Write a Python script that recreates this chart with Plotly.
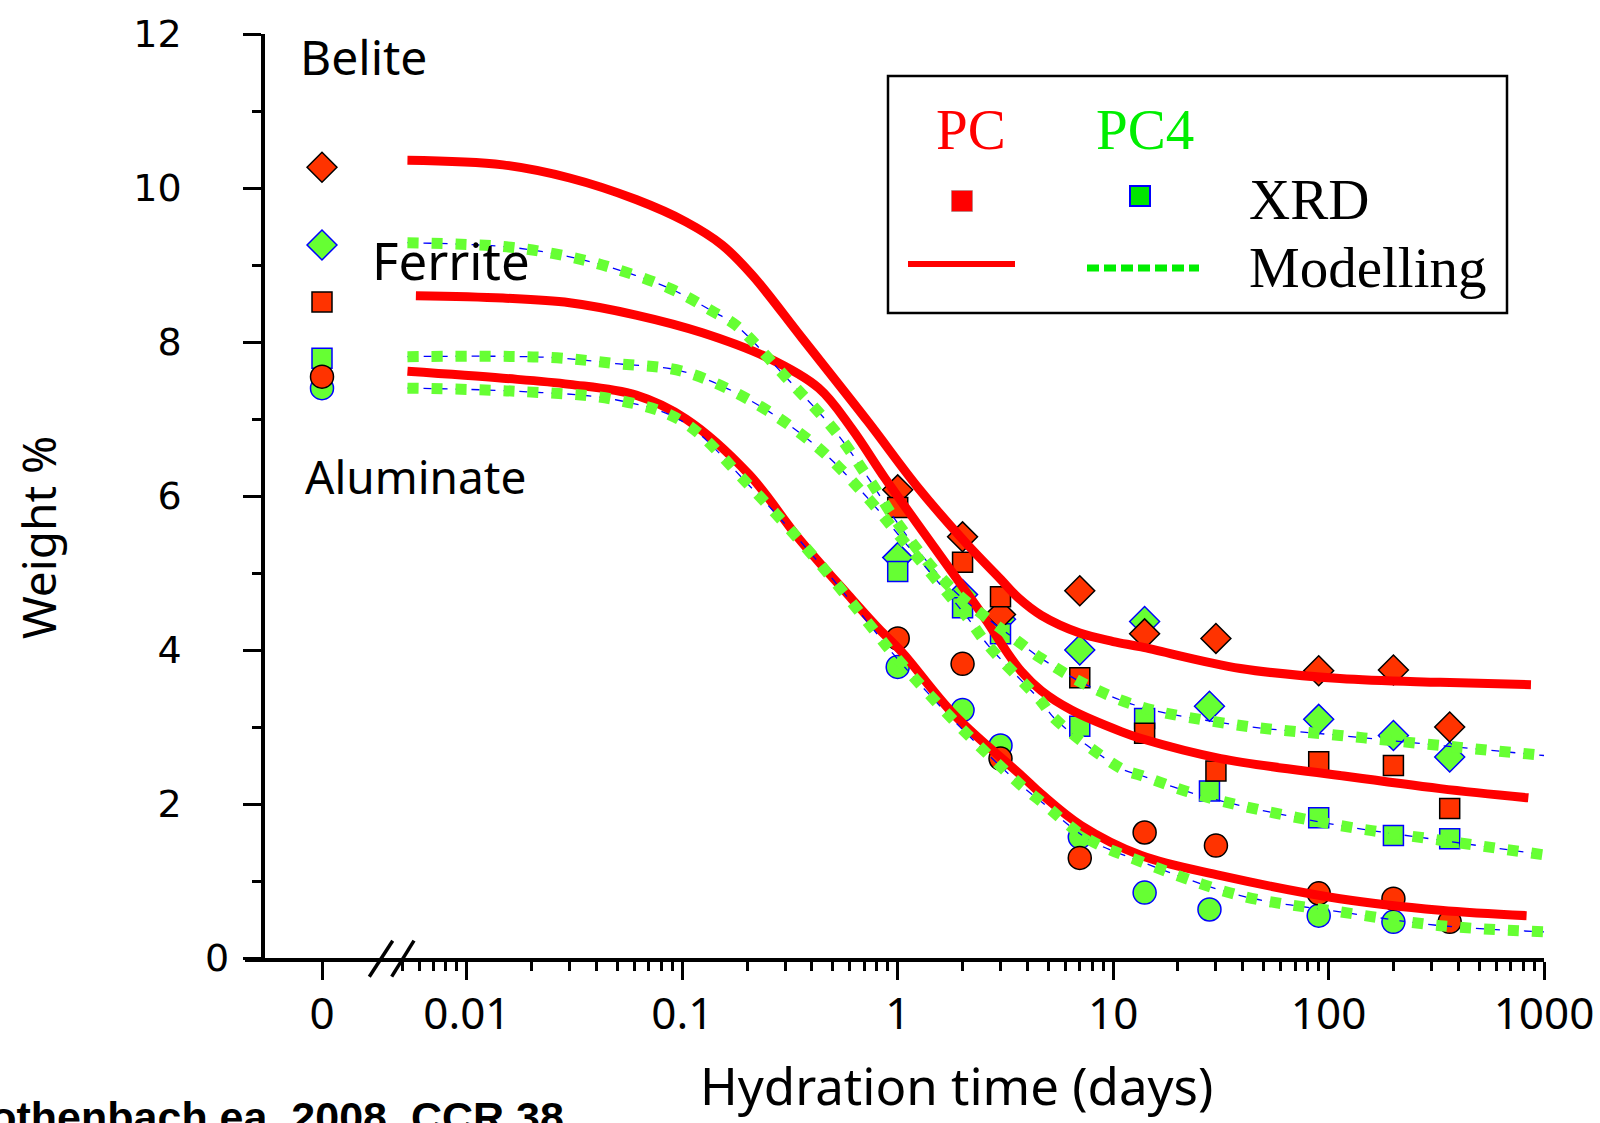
import math
import plotly.graph_objects as go

# ---------------- data ----------------
# XRD measurements (weight %), t = 0 plotted on the separate "0" axis
pc_times = [1, 2, 3, 7, 14, 30, 90, 200, 365]
pc4_times = [1, 2, 3, 7, 14, 28, 90, 200, 365]

pc_belite_t0 = 10.27
pc_ferrite_t0 = 8.52
pc_aluminate_t0 = 7.55
pc4_belite_t0 = 9.26
pc4_ferrite_t0 = 7.79
pc4_aluminate_t0 = 7.40

pc_belite_xrd = [6.08, 5.47, 4.46, 4.77, 4.21, 4.15, 3.73, 3.74, 3.00]
pc_ferrite_xrd = [5.85, 5.14, 4.69, 3.64, 2.92, 2.43, 2.55, 2.50, 1.94]
pc_aluminate_xrd = [4.15, 3.82, 2.59, 1.30, 1.63, 1.46, 0.84, 0.77, 0.47]

pc4_belite_xrd = [5.20, 4.72, 4.40, 4.00, 4.37, 3.27, 3.10, 2.89, 2.61]
pc4_ferrite_xrd = [5.02, 4.55, 4.21, 3.01, 3.11, 2.17, 1.82, 1.59, 1.55]
pc4_aluminate_times = [1, 2, 3, 7, 14, 28, 90, 200]
pc4_aluminate_xrd = [3.78, 3.22, 2.76, 1.57, 0.85, 0.63, 0.55, 0.47]

# Modelling curves
pc_belite_mod_t = [0.0053, 0.0147, 0.03, 0.061, 0.104, 0.153, 0.211, 0.36, 0.73, 1.25,
                   2.12, 3.0, 3.62, 4.64, 7.0, 10.0, 13.5, 39, 113, 330, 870]
pc_belite_mod = [10.36, 10.30, 10.13, 9.85, 9.56, 9.26, 8.87, 8.05, 6.96, 6.10,
                 5.36, 4.92, 4.68, 4.45, 4.22, 4.11, 4.04, 3.76, 3.63, 3.58, 3.55]

pc_ferrite_mod_t = [0.0058, 0.0147, 0.03, 0.061, 0.124, 0.252, 0.43, 0.61, 0.873, 1.49,
                    2.54, 3.2, 3.75, 4.64, 6.4, 10.9, 13.5, 31.6, 113, 330, 846]
pc_ferrite_mod = [8.60, 8.57, 8.51, 8.35, 8.12, 7.79, 7.40, 6.88, 6.23, 5.32,
                  4.41, 3.98, 3.72, 3.47, 3.22, 2.94, 2.85, 2.59, 2.37, 2.20, 2.08]

pc_aluminate_mod_t = [0.0053, 0.0147, 0.03, 0.061, 0.104, 0.204, 0.347, 0.591, 0.814, 1.04,
                      1.84, 3.75, 4.64, 7.1, 13.5, 31.6, 113, 330, 830]
pc_aluminate_mod = [7.62, 7.53, 7.45, 7.31, 7.00, 6.28, 5.45, 4.71, 4.28, 3.98,
                    3.15, 2.37, 2.13, 1.72, 1.33, 1.07, 0.77, 0.62, 0.55]

pc4_belite_mod_t = [0.0053, 0.0147, 0.025, 0.0426, 0.0868, 0.138, 0.177, 0.301, 0.513, 0.732,
                    1.04, 1.78, 3.75, 4.64, 7.6, 13.5, 39, 113, 330, 1000]
pc4_belite_mod = [9.29, 9.24, 9.15, 9.00, 8.70, 8.40, 8.22, 7.55, 6.84, 6.23,
                  5.58, 4.80, 4.08, 3.89, 3.54, 3.26, 3.02, 2.89, 2.76, 2.63]

pc4_ferrite_mod_t = [0.0053, 0.0241, 0.049, 0.1, 0.204, 0.414, 0.706, 1.04, 2.12, 2.63,
                     4.64, 5.35, 10.9, 13.5, 22.2, 39, 113, 330, 1000]
pc4_ferrite_mod = [7.81, 7.80, 7.72, 7.62, 7.25, 6.66, 6.01, 5.45, 4.41, 4.06,
                   3.33, 3.11, 2.46, 2.37, 2.16, 1.98, 1.72, 1.53, 1.34]

pc4_aluminate_mod_t = [0.0053, 0.0169, 0.049, 0.1, 0.204, 0.414, 0.785, 0.906, 1.84, 3.75,
                       4.64, 7.6, 13.5, 39, 113, 330, 1000]
pc4_aluminate_mod = [7.40, 7.36, 7.25, 6.97, 6.14, 5.19, 4.24, 4.02, 3.07, 2.24,
                     2.03, 1.55, 1.25, 0.81, 0.60, 0.42, 0.34]

y_ticks = [0, 2, 4, 6, 8, 10, 12]
x_log_ticks = [0.01, 0.1, 1, 10, 100, 1000]
x_log_ticktext = ["0.01", "0.1", "1", "10", "100", "1000"]

# ---------------- layout geometry ----------------
W, H = 1600, 1123
L, R, T, B = 245, 56, 34, 165
PW = W - L - R
PH = H - T - B


def px(x):
    return (x - L) / PW


def py(y):
    return (H - B - y) / PH


PC_FILL, PC_EDGE = "#FF3300", "#000000"
PC4_FILL, PC4_EDGE = "#66FF33", "#0000FF"
SIZES = {"diamond": 23, "square": 20, "circle": 23}

fig = go.Figure()


def add_markers(xaxis, t, v, symbol, fill, edge):
    fig.add_trace(go.Scatter(
        x=t, y=v, mode="markers", xaxis=xaxis, yaxis="y", showlegend=False,
        marker=dict(symbol=symbol, size=SIZES[symbol], color=fill,
                    line=dict(color=edge, width=1.5)),
        cliponaxis=False))


# PC4 markers (drawn first)
for t0, vals, times, sym in [
        (pc4_belite_t0, pc4_belite_xrd, pc4_times, "diamond"),
        (pc4_ferrite_t0, pc4_ferrite_xrd, pc4_times, "square"),
        (pc4_aluminate_t0, pc4_aluminate_xrd, pc4_aluminate_times, "circle")]:
    add_markers("x", [0], [t0], sym, PC4_FILL, PC4_EDGE)
    add_markers("x2", times, vals, sym, PC4_FILL, PC4_EDGE)

# PC markers
for t0, vals, sym in [
        (pc_belite_t0, pc_belite_xrd, "diamond"),
        (pc_ferrite_t0, pc_ferrite_xrd, "square"),
        (pc_aluminate_t0, pc_aluminate_xrd, "circle")]:
    add_markers("x", [0], [t0], sym, PC_FILL, PC_EDGE)
    add_markers("x2", pc_times, vals, sym, PC_FILL, PC_EDGE)

# PC modelling (red solid)
for t, v in [(pc_belite_mod_t, pc_belite_mod),
             (pc_ferrite_mod_t, pc_ferrite_mod),
             (pc_aluminate_mod_t, pc_aluminate_mod)]:
    fig.add_trace(go.Scatter(x=t, y=v, mode="lines", xaxis="x2", yaxis="y",
                             showlegend=False,
                             line=dict(color="#FF0000", width=9, shape="spline",
                                       smoothing=1.0)))

# PC4 modelling (thin blue dashed + green dotted)
for t, v in [(pc4_belite_mod_t, pc4_belite_mod),
             (pc4_ferrite_mod_t, pc4_ferrite_mod),
             (pc4_aluminate_mod_t, pc4_aluminate_mod)]:
    fig.add_trace(go.Scatter(x=t, y=v, mode="lines", xaxis="x2", yaxis="y",
                             showlegend=False,
                             line=dict(color="#0000FF", width=1.3, dash="8px,8px",
                                       shape="spline", smoothing=1.0)))
    fig.add_trace(go.Scatter(x=t, y=v, mode="lines", xaxis="x2", yaxis="y",
                             showlegend=False,
                             line=dict(color="#66FF33", width=11, dash="11px,13px",
                                       shape="spline", smoothing=1.0)))

d1 = px(402)
tick_font = dict(family="Noto Sans", size=44, color="black")

fig.update_layout(
    width=W, height=H,
    margin=dict(l=L, r=R, t=T, b=B, pad=0, autoexpand=False),
    paper_bgcolor="white", plot_bgcolor="white",
    showlegend=False,
    xaxis=dict(domain=[0, d1], range=[-1, (d1 * PW) / (322 - L) - 1],
               showline=True, linecolor="black", linewidth=3.5,
               ticks="outside", ticklen=18, tickwidth=3, tickcolor="black",
               tickvals=[0], ticktext=["0"], tickfont=tick_font,
               ticklabelstandoff=-4, automargin=False,
               showgrid=False, zeroline=False, anchor="y"),
    xaxis2=dict(domain=[d1, 1], type="log", range=[math.log10(0.005), 3],
                showline=True, linecolor="black", linewidth=3.5,
                ticks="outside", ticklen=18, tickwidth=3, tickcolor="black",
                tickvals=x_log_ticks, ticktext=x_log_ticktext, tickfont=tick_font,
                ticklabelstandoff=-4, automargin=False,
                minor=dict(ticks="outside", ticklen=9, tickwidth=2.5,
                           tickcolor="black", dtick="D1", showgrid=False),
                showgrid=False, zeroline=False, anchor="y"),
    yaxis=dict(domain=[0, 1], range=[0, 12], anchor="free", position=px(263),
               showline=True, linecolor="black", linewidth=3.5,
               ticks="outside", ticklen=18, tickwidth=3, tickcolor="black",
               tickvals=y_ticks, ticktext=[""] + [str(v) for v in y_ticks[1:]],
               tickfont=dict(family="DejaVu Sans", size=38, color="black"),
               ticklabelstandoff=54, automargin=False,
               minor=dict(ticks="outside", ticklen=9, tickwidth=2.5,
                          tickcolor="black", dtick=1, showgrid=False),
               showgrid=False, zeroline=False),
)

shapes = []
# axis break slashes
for (x0, y0, x1, y1) in [(369.3, 976.7, 392.7, 940.7), (391.7, 976.7, 414.0, 940.7)]:
    shapes.append(dict(type="line", xref="paper", yref="paper",
                       x0=px(x0), y0=py(y0), x1=px(x1), y1=py(y1),
                       line=dict(color="black", width=3.5)))
# legend box
shapes.append(dict(type="rect", xref="paper", yref="paper",
                   x0=px(888), x1=px(1507), y0=py(313), y1=py(76),
                   line=dict(color="black", width=2.5), fillcolor="white"))
shapes.append(dict(type="rect", xref="paper", yref="paper",
                   x0=px(951.5), x1=px(972.5), y0=py(211.5), y1=py(190.5),
                   line=dict(color="#888888", width=0.5), fillcolor="#FF0000"))
shapes.append(dict(type="rect", xref="paper", yref="paper",
                   x0=px(1130), x1=px(1150), y0=py(206), y1=py(186),
                   line=dict(color="#0000FF", width=2), fillcolor="#00E600"))
shapes.append(dict(type="line", xref="paper", yref="paper",
                   x0=px(908), x1=px(1015), y0=py(264), y1=py(264),
                   line=dict(color="#FF0000", width=6)))
shapes.append(dict(type="line", xref="paper", yref="paper",
                   x0=px(1087), x1=px(1199), y0=py(268), y1=py(268),
                   line=dict(color="#00EE00", width=7, dash="12px,5px")))
fig.update_layout(shapes=shapes)

serif = "Liberation Serif"
comic = "Noto Sans"
ann = [
    dict(text="Belite", x=px(298), y=py(57), xanchor="left", yanchor="middle",
         font=dict(family=comic, size=48, color="black")),
    dict(text="Ferrite", x=px(370), y=py(260), xanchor="left", yanchor="middle",
         font=dict(family=comic, size=51, color="black")),
    dict(text="Aluminate", x=px(303), y=py(476), xanchor="left", yanchor="middle",
         font=dict(family=comic, size=46, color="black")),
    dict(text="Weight %", x=px(38), y=py(538), textangle=-90, xanchor="center",
         yanchor="middle", font=dict(family=comic, size=46, color="black")),
    dict(text="Hydration time (days)", x=px(956), y=py(1085), xanchor="center",
         yanchor="middle", font=dict(family=comic, size=51, color="black")),
    dict(text="<b>Lothenbach ea. 2008, CCR 38</b>", x=px(566), y=py(1091),
         xanchor="right", yanchor="top",
         font=dict(family="Liberation Sans", size=43, color="black")),
    dict(text="PC", x=px(971), y=py(129), xanchor="center", yanchor="middle",
         font=dict(family=serif, size=57, color="#FF0000")),
    dict(text="PC4", x=px(1145), y=py(129), xanchor="center", yanchor="middle",
         font=dict(family=serif, size=57, color="#00EE00")),
    dict(text="XRD", x=px(1247), y=py(199), xanchor="left", yanchor="middle",
         font=dict(family=serif, size=57, color="black")),
    dict(text="Modelling", x=px(1247), y=py(267), xanchor="left", yanchor="middle",
         font=dict(family=serif, size=57, color="black")),
]
for a in ann:
    a.update(xref="paper", yref="paper", showarrow=False)
# the "0" label of the y axis sits further right than the others
ann.append(dict(text="0", xref="paper", yref="y", x=px(217), y=0, showarrow=False,
                xanchor="center", yanchor="middle",
                font=dict(family="DejaVu Sans", size=38, color="black")))
fig.update_layout(annotations=ann)

fig.write_html("out.html")
